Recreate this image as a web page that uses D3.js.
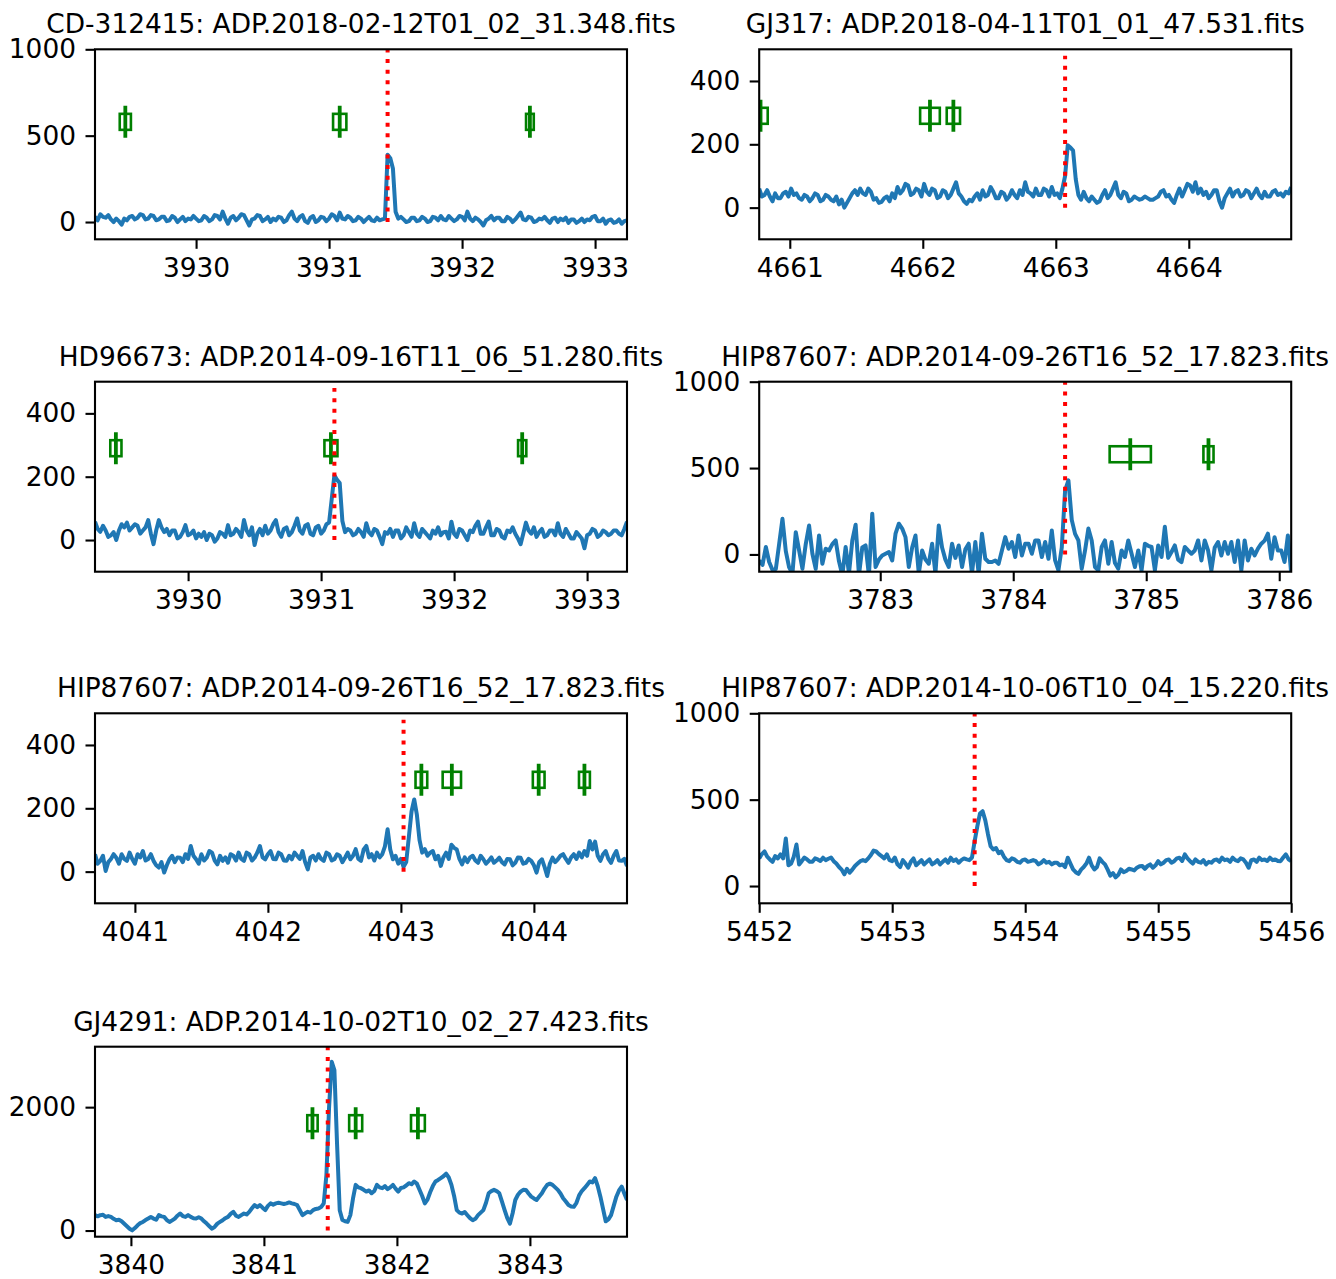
<!DOCTYPE html>
<html>
<head>
<meta charset="utf-8">
<script src="https://cdn.jsdelivr.net/npm/d3@7"></script>
<style>
  body { margin: 0; background: #fff; }
  svg text { font-family: "DejaVu Sans", sans-serif; }
</style>
</head>
<body>
<div id="my_dataviz"></div>
<script>
// panel titles (star: file)
const titles = [
  "CD-312415: ADP.2018-02-12T01_02_31.348.fits",
  "GJ317: ADP.2018-04-11T01_01_47.531.fits",
  "HD96673: ADP.2014-09-16T11_06_51.280.fits",
  "HIP87607: ADP.2014-09-26T16_52_17.823.fits",
  "HIP87607: ADP.2014-09-26T16_52_17.823.fits",
  "HIP87607: ADP.2014-10-06T10_04_15.220.fits",
  "GJ4291: ADP.2014-10-02T10_02_27.423.fits"
];

// wavelength window of each panel
const xDomains = [
  [3929.24, 3933.24], [4660.77, 4664.77], [3929.30, 3933.30], [3782.09, 3786.09],
  [4040.70, 4044.70], [5452, 5456], [3839.73, 3843.73]
];
const yDomains = [
  [-100, 1000], [-100, 500], [-100, 500], [-100, 1000],
  [-100, 500], [-100, 1000], [-100, 2980]
];
const xTicks = [
  [3930, 3931, 3932, 3933], [4661, 4662, 4663, 4664], [3930, 3931, 3932, 3933],
  [3783, 3784, 3785, 3786], [4041, 4042, 4043, 4044], [5452, 5453, 5454, 5455, 5456],
  [3840, 3841, 3842, 3843]
];
const yTicks = [
  [0, 500, 1000], [0, 200, 400], [0, 200, 400], [0, 500, 1000],
  [0, 200, 400], [0, 500, 1000], [0, 2000]
];

// first wavelength of the sampled spectrum and its sampling step
const xStarts = [3929.24, 4660.77, 3929.30, 3782.09, 4040.70, 5452, 3839.73];
const xSteps = [0.02, 0.02, 0.02, 0.025, 0.02, 0.02, 0.02];

// flux values
const flux1 = [
  30, 10, 45, 30, 25, 40, 15, 0, 20, 5, -15, 20, 10, 30, 35, 15, 25, 45, 40, 15,
  20, 40, 35, 10, 15, 30, 30, 5, 10, 35, 25, 0, 15, 30, 5, 20, 15, 35, 20, 5,
  10, 35, 25, 5, 15, 40, 35, 15, 60, 20, -10, 25, 35, 10, 25, 45, 40, 10, -20, 15,
  20, 40, 35, 5, 15, 30, 0, 20, 10, 30, 25, 0, 10, 40, 60, 20, 5, 30, 40, 5,
  -5, 25, 35, 0, 10, 30, 25, 5, 20, 45, 35, 10, 55, 20, 15, 35, 25, 5, 10, 30,
  20, 0, 15, 30, 10, 5, 25, 10, 15, 20, 390, 370, 310, 60, 20, 30, 15, 0, 5, 25,
  25, 5, 10, 30, 20, 0, 5, 30, 25, 10, 35, 15, 10, 35, 20, 5, 15, 35, 30, 10,
  60, 20, 5, 25, 15, 0, -20, 10, 20, 35, 10, 25, 25, 5, 5, 30, 20, 0, 15, 35,
  55, 15, 10, 30, 25, 0, 5, 20, 15, 30, 10, -5, 20, 25, 0, 20, 10, 25, -5, 15,
  15, -5, 5, 20, 0, 15, 10, 30, 35, 5, 5, 20, -10, 10, 15, -5, 0, 15, -10, 5,
  10];
const flux2 = [
  60, 35, 40, 55, 35, 20, 45, 30, 30, 45, 50, 35, 60, 40, 45, 30, 25, 40, 35, 20,
  30, 45, 40, 20, 25, 40, 35, 25, 20, 35, 10, 25, 0, 15, 30, 45, 55, 40, 60, 45,
  40, 60, 50, 25, 30, 15, 18, 30, 35, 20, 45, 30, 65, 45, 55, 75, 70, 40, 45, 60,
  55, 35, 75, 50, 40, 60, 55, 30, 35, 55, 50, 30, 40, 60, 80, 45, 35, 20, 12, 25,
  20, 35, 45, 25, 55, 35, 40, 65, 50, 30, 30, 50, 45, 25, 35, 55, 40, 30, 55, 40,
  80, 50, 45, 35, 60, 40, 40, 60, 55, 35, 65, 40, 45, 30, 60, 100, 197, 190, 180, 90,
  40, 25, 50, 30, 20, 35, 25, 15, 20, 40, 55, 30, 40, 60, 80, 40, 30, 50, 45, 20,
  25, 35, 30, 25, 28, 35, 30, 25, 25, 30, 35, 50, 55, 35, 40, 25, 15, 40, 60, 35,
  55, 75, 70, 50, 80, 45, 60, 40, 50, 30, 40, 55, 55, 20, 0, 30, 45, 60, 35, 50,
  55, 35, 40, 55, 50, 30, 45, 60, 40, 30, 50, 35, 35, 50, 55, 40, 45, 35, 50, 45,
  65];
const flux3 = [
  58, 35, 26, 45, 30, 10, 15, 25, 0, 30, 50, 40, 55, 30, 40, 50, 45, 20, 30, 40,
  63, 20, -13, 30, 63, 40, 25, 35, 15, 30, 30, 5, 10, 25, 47, 15, 20, 30, 5, 20,
  10, 25, 0, 20, 15, -5, 5, 25, 20, 10, 47, 15, 20, 35, 26, 10, 63, 30, 15, 40,
  -16, 20, 35, 15, 45, 20, 30, 50, 63, 25, 10, 35, 40, 15, 25, 45, 68, 30, 20, 45,
  50, 20, 15, 40, 45, 20, 30, 50, 55, 130, 205, 190, 180, 60, 25, 35, 30, 15, 20, 35,
  25, 10, 53, 25, 15, 35, 30, 10, -13, 25, 20, 35, 10, 30, 30, 5, 15, 40, 25, 10,
  53, 20, 10, 35, 25, 15, 5, 30, 20, 40, 15, 25, 26, 5, 58, 20, 10, 35, 30, 15,
  0, 30, 25, 45, 58, 20, 20, 40, 58, 15, 15, 35, 30, 10, 5, 30, 25, 40, 20, 5,
  -13, 20, 55, 30, 20, 40, 10, 25, 35, 10, 15, 30, 30, 15, 53, 20, 10, 35, 20, 5,
  5, 25, 15, 5, -26, 15, 20, 35, 30, 10, 16, 30, 25, 15, 20, 30, 30, 20, 15, 35,
  58];
const flux4 = [-35, -60, 43, -44, -90, -85, 60, 206, 19, -75,
  -110, 129, 23, -83, 60, 167, 4, -83, 110, -54,
  33, 23, 60, 81, -40, -120, 43, -110, 81, 172,
  -120, 40, 52, -120, 236, -73, -30, -6, 4, 14,
  -35, 120, 178, 150, 100, -73, 40, 110, -110, 23,
  -30, -54, 62, -110, 167, 40, -30, -73, 62, -20,
  52, -73, 30, 62, -110, 72, -110, 120, -25, -44,
  -44, -35, -54, 23, 100, 33, 72, -15, 110, -6,
  62, 62, 4, 81, 81, -15, 72, -25, 139, -35,
  -92, 40, 371, 429, 200, 119, 81, -83, 23, 150,
  81, -73, -92, 43, 81, -54, 72, -50, -83, 23,
  -15, 81, 4, -73, 23, -92, 62, 50, 43, -92,
  52, -15, 160, -20, 14, 52, -30, -44, 43, 23,
  4, 23, 81, -35, 81, 23, -92, 40, 72, -6,
  72, 4, 72, -44, 81, -92, 81, -35, 33, -6,
  33, 62, 80, 120, -25, 100, 23, 23, -44, 110, -110];
const flux5 = [
  55, 25, 34, 50, 2, 30, 40, 55, 44, 25, 55, 40, 34, 60, 40, 25, 55, 45, 65, 35,
  40, 55, 34, 20, 13, 30, -3, 20, 39, 50, 30, 45, 44, 30, 55, 40, 81, 50, 39, 25,
  55, 35, 44, 65, 60, 35, 23, 50, 34, 45, 28, 55, 50, 35, 60, 40, 34, 60, 55, 35,
  44, 60, 81, 45, 39, 55, 65, 40, 39, 60, 55, 35, 34, 50, 39, 60, 50, 40, 65, 30,
  7, 45, 50, 35, 55, 40, 34, 60, 55, 35, 39, 55, 50, 30, 44, 60, 39, 50, 71, 40,
  34, 70, 81, 45, 55, 35, 60, 45, 55, 80, 134, 70, 39, 50, 25, 40, 15, 30, 110, 190,
  228, 180, 100, 60, 71, 50, 60, 65, 39, 50, 18, 45, 60, 40, 85, 75, 70, 40, 23, 45,
  30, 45, 50, 35, 28, 50, 39, 25, 34, 45, 28, 35, 44, 30, 23, 40, 39, 20, 28, 45,
  44, 25, 28, 40, 34, 20, -3, 30, 39, 15, -14, 25, 44, 30, 39, 50, 55, 40, 28, 45,
  55, 40, 60, 45, 65, 50, 97, 70, 95, 50, 34, 55, 65, 40, 28, 50, 65, 35, 34, 40,
  18];
const flux6 = [
  160, 185, 200, 170, 154, 140, 173, 160, 183, 160, 275, 120, 130, 170, 240, 125, 144, 165, 154, 140,
  140, 160, 154, 145, 164, 150, 158, 165, 144, 130, 110, 95, 68, 100, 77, 95, 116, 130, 144, 150,
  144, 160, 180, 205, 200, 185, 173, 160, 183, 150, 144, 165, 125, 110, 150, 130, 106, 140, 160, 120,
  135, 150, 125, 140, 154, 125, 135, 150, 125, 140, 154, 135, 164, 145, 154, 135, 150, 160, 154, 150,
  165, 260, 345, 420, 433, 380, 300, 230, 212, 220, 190, 200, 170, 150, 144, 160, 154, 140, 135, 150,
  154, 140, 144, 150, 144, 125, 135, 150, 135, 140, 125, 135, 135, 120, 125, 110, 164, 130, 96, 80,
  70, 95, 110, 130, 164, 120, 96, 110, 160, 140, 125, 95, 60, 75, 50, 65, 96, 80, 87, 100,
  96, 90, 106, 115, 116, 100, 116, 125, 106, 120, 144, 125, 135, 150, 154, 135, 144, 160, 164, 145,
  183, 160, 144, 130, 154, 140, 135, 150, 125, 140, 135, 150, 154, 140, 164, 150, 154, 140, 164, 150,
  144, 160, 154, 135, 106, 150, 154, 140, 164, 150, 154, 145, 164, 150, 154, 145, 144, 165, 183, 155,
  144];
const flux7 = [
  249, 230, 249, 255, 221, 235, 221, 190, 167, 175, 150, 110, 70, 30, 3, 40, 85, 120, 139, 170,
  194, 220, 194, 175, 249, 230, 221, 170, 139, 165, 194, 240, 276, 235, 221, 250, 221, 200, 194, 215,
  194, 150, 112, 70, 30, 60, 112, 140, 167, 200, 221, 270, 303, 240, 221, 250, 276, 260, 303, 360,
  413, 380, 413, 370, 331, 400, 440, 420, 440, 450, 440, 430, 440, 455, 440, 430, 413, 330, 249, 280,
  303, 290, 331, 350, 358, 380, 440, 900, 2000, 2735, 2600, 1400, 330, 170, 150, 140, 250, 520, 740, 700,
  686, 660, 631, 650, 604, 640, 740, 700, 686, 720, 670, 700, 740, 680, 631, 690, 700, 730, 768, 750,
  795, 760, 660, 560, 440, 500, 620, 720, 795, 820, 850, 880, 921, 860, 740, 560, 331, 290, 276, 300,
  249, 200, 167, 190, 249, 290, 331, 450, 604, 640, 659, 640, 604, 470, 331, 200, 112, 280, 495, 580,
  631, 660, 659, 600, 549, 520, 495, 550, 604, 680, 740, 760, 740, 700, 659, 600, 522, 470, 413, 390,
  385, 450, 570, 640, 686, 740, 795, 780, 850, 720, 549, 350, 150, 180, 249, 400, 549, 650, 713, 600,
  495];
const fluxes = [flux1, flux2, flux3, flux4, flux5, flux6, flux7];

// rest wavelength marked by the red dotted line, and how high it is drawn
const lineCentres = [3931.44, 4663.07, 3931.10, 3784.39, 4043.02, 5453.62, 3841.48];
const lineTops = [1000, 480, 480, 1000, 480, 1000, 2980];

// green boxes: centre, half width and level
const boxCentres = [
  [3929.468, 3931.08, 3932.51], [4660.78, 4662.054, 4662.23], [3929.457, 3931.074, 3932.512],
  [3784.88, 3785.468], [4043.154, 4043.383, 4044.036, 4044.38], [], [3841.365, 3841.69, 3842.158]
];
const boxHalfWidths = [
  [0.042, 0.05, 0.029], [0.054, 0.074, 0.05], [0.042, 0.049, 0.031],
  [0.155, 0.038], [0.044, 0.069, 0.044, 0.041], [], [0.039, 0.049, 0.052]
];
const boxLevels = [580, 290, 290, 580, 290, 0, 1740];

// layout
const colLeft = [95, 759.2];
const rowTop = [49.3, 381.7, 713.3, 1046.7];
const panelW = 532, panelH = 190;
const fontPx = 26.4;

const svg = d3.select("#my_dataviz")
  .append("svg")
  .attr("width", 1336)
  .attr("height", 1279);

titles.forEach(function(title, k) {
  const col = k % 2, row = Math.floor(k / 2);
  const g = svg.append("g")
    .attr("transform", `translate(${colLeft[col]}, ${rowTop[row]})`);

  const x = d3.scaleLinear().domain(xDomains[k]).range([0, panelW]);
  const y = d3.scaleLinear().domain(yDomains[k]).range([panelH, 0]);

  g.append("clipPath").attr("id", "clip" + k)
    .append("rect").attr("width", panelW).attr("height", panelH);

  const plot = g.append("g").attr("clip-path", `url(#clip${k})`);

  // spectrum
  const pts = fluxes[k].map((v, i) => [xStarts[k] + i * xSteps[k], v]);
  plot.append("path")
    .datum(pts)
    .attr("fill", "none")
    .attr("stroke", "#1f77b4")
    .attr("stroke-width", 4)
    .attr("stroke-linejoin", "round")
    .attr("d", d3.line().x(d => x(d[0])).y(d => y(d[1])));

  // green boxes
  boxCentres[k].forEach(function(c, j) {
    const hw = boxHalfWidths[k][j];
    const yc = y(boxLevels[k]);
    plot.append("rect")
      .attr("x", x(c - hw))
      .attr("y", yc - 8)
      .attr("width", x(c + hw) - x(c - hw))
      .attr("height", 16)
      .attr("fill", "none")
      .attr("stroke", "green")
      .attr("stroke-width", 2.6);
    plot.append("line")
      .attr("x1", x(c)).attr("x2", x(c))
      .attr("y1", yc - 16).attr("y2", yc + 16)
      .attr("stroke", "green")
      .attr("stroke-width", 3.8);
  });

  // red dotted line
  plot.append("line")
    .attr("x1", x(lineCentres[k])).attr("x2", x(lineCentres[k]))
    .attr("y1", y(0)).attr("y2", y(lineTops[k]))
    .attr("stroke", "red")
    .attr("stroke-width", 4)
    .attr("stroke-dasharray", "4,6.6");

  // frame
  g.append("rect")
    .attr("width", panelW).attr("height", panelH)
    .attr("fill", "none")
    .attr("stroke", "black")
    .attr("stroke-width", 2.1);

  const xAxis = g.append("g")
    .attr("transform", `translate(0, ${panelH})`)
    .call(d3.axisBottom(x).tickValues(xTicks[k]).tickFormat(d3.format("d"))
      .tickSize(9.5).tickPadding(9.5));
  const yAxis = g.append("g")
    .call(d3.axisLeft(y).tickValues(yTicks[k]).tickFormat(d3.format("d"))
      .tickSize(9.5).tickPadding(9.5));

  [xAxis, yAxis].forEach(function(a) {
    a.attr("font-size", fontPx).attr("font-family", "DejaVu Sans");
    a.select(".domain").remove();
    a.selectAll(".tick line").attr("stroke", "black").attr("stroke-width", 2.1);
    a.selectAll(".tick text").attr("fill", "black");
  });

  g.append("text")
    .attr("x", panelW / 2)
    .attr("y", -16)
    .attr("text-anchor", "middle")
    .attr("font-size", fontPx)
    .attr("fill", "black")
    .text(title);
});
</script>
</body>
</html>
